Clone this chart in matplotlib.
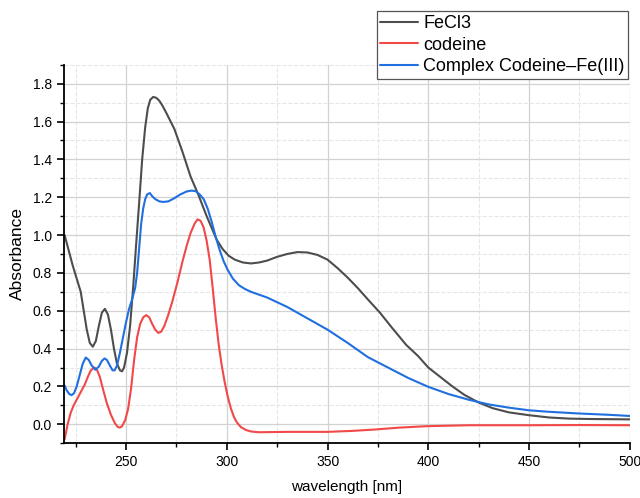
import matplotlib
matplotlib.use("Agg")
from matplotlib import pyplot as plt
from matplotlib.ticker import MultipleLocator

plt.rcParams['font.family'] = ['Liberation Sans', 'DejaVu Sans']

# FeCl3
wl_fe = [219.5, 221.5, 223.5, 225.5, 227.5, 229, 230.5, 232, 233.5, 235, 236.5, 238,
         239.5, 241, 242.5, 244, 245.5, 247, 248, 249, 250.5, 252, 253.5, 255,
         256.5, 258, 259.5, 260.8, 262, 263.5, 265, 266.5, 268, 270, 274, 278,
         282, 286, 290, 295, 298, 301, 304, 308, 312, 316, 320, 325, 330, 335,
         340, 345, 350, 355, 360, 365, 370, 376, 382, 389, 395, 400, 406, 412,
         418, 425, 432, 440, 450, 460, 470, 480, 490, 500]
abs_fe = [1.00, 0.92, 0.84, 0.77, 0.70, 0.60, 0.50, 0.43, 0.41, 0.44, 0.52, 0.59,
          0.61, 0.58, 0.50, 0.40, 0.32, 0.285, 0.28, 0.30, 0.38, 0.52, 0.72, 0.95,
          1.17, 1.40, 1.57, 1.67, 1.715, 1.73, 1.725, 1.71, 1.685, 1.645, 1.56, 1.44,
          1.31, 1.21, 1.10, 0.975, 0.925, 0.89, 0.87, 0.855, 0.85, 0.855, 0.865, 0.885, 0.90, 0.91,
          0.908, 0.895, 0.87, 0.825, 0.775, 0.72, 0.66, 0.59, 0.51, 0.42, 0.36, 0.30, 0.25, 0.20,
          0.155, 0.115, 0.085, 0.063, 0.048, 0.036, 0.030, 0.028, 0.027, 0.026]

# codeine
wl_cod = [219.5, 221, 222.5, 224, 226, 228, 229.5, 231, 232.5, 234.3, 235.5, 237,
          238.7, 240.5, 242.5, 244.5, 246, 247, 248, 249.5, 251, 252.5, 254, 255.5,
          257, 258.5, 260, 261.5, 263, 264.5, 266, 267.5, 269, 271, 273, 275.5,
          278, 280, 282, 284, 285.5, 287, 288.5, 290, 291.5, 293, 294.5, 296,
          297.5, 299, 300.5, 302, 303.5, 305, 307, 309.5, 312, 316, 330, 350,
          362, 373, 385, 399, 420, 450, 475, 500]
abs_cod = [-0.08, 0.0, 0.06, 0.10, 0.14, 0.18, 0.21, 0.25, 0.285, 0.30, 0.29, 0.25,
           0.18, 0.11, 0.05, 0.005, -0.015, -0.017, -0.01, 0.02, 0.08, 0.19, 0.34, 0.46,
           0.53, 0.565, 0.577, 0.565, 0.53, 0.50, 0.483, 0.49, 0.52, 0.58, 0.65, 0.75,
           0.86, 0.94, 1.01, 1.06, 1.083, 1.075, 1.04, 0.97, 0.87, 0.72, 0.56, 0.42,
           0.31, 0.22, 0.145, 0.085, 0.04, 0.01, -0.015, -0.03, -0.038, -0.042, -0.04, -0.04,
           -0.035, -0.028, -0.018, -0.01, -0.005, -0.005, -0.004, -0.005]

# complex codeine-Fe(III)
wl_cx = [219.5, 220.5, 221.8, 223, 224.2, 225.5, 227, 228.5, 230, 231.5, 233, 234.8,
         236.5, 238, 239.3, 240.5, 242, 243.3, 244.3, 245.5, 247, 248.5, 250, 251.5,
         253, 254.5, 255.5, 256.5, 257.5, 258.5, 259.5, 260.5, 261.8, 263, 264.5, 266.5,
         268.5, 271, 274, 277, 280, 282.5, 284.5, 286.5, 288.5, 290.5, 292.5, 294.5,
         296.5, 298.5, 300.5, 303, 306, 309, 312, 316, 320, 330, 340, 350, 360, 370,
         380, 390, 400, 410, 420, 430, 440, 450, 460, 475, 490, 500]
abs_cx = [0.205, 0.18, 0.16, 0.154, 0.165, 0.20, 0.26, 0.32, 0.353, 0.34, 0.31, 0.288,
          0.305, 0.335, 0.348, 0.34, 0.31, 0.285, 0.285, 0.31, 0.38, 0.46, 0.54, 0.61,
          0.66, 0.72, 0.80, 0.93, 1.06, 1.14, 1.19, 1.215, 1.222, 1.205, 1.19, 1.178,
          1.175, 1.178, 1.195, 1.215, 1.23, 1.235, 1.232, 1.215, 1.19, 1.14, 1.07, 0.99,
          0.92, 0.86, 0.815, 0.77, 0.735, 0.715, 0.70, 0.685, 0.67, 0.62, 0.56, 0.50, 0.43, 0.355,
          0.30, 0.245, 0.198, 0.16, 0.13, 0.105, 0.088, 0.074, 0.066, 0.057, 0.05, 0.044]

fig = plt.figure(figsize=(6.4, 4.98), dpi=100)
ax = fig.add_axes([0.1, 0.11, 0.884, 0.76])

style = dict(lw=1.5, solid_joinstyle='round', solid_capstyle='round')
ax.plot(wl_fe, abs_fe, color='#4d4d4d', label='FeCl3', **style)
ax.plot(wl_cod, abs_cod, color='#f24848', label='codeine', **style)
ax.plot(wl_cx, abs_cx, color='#1f6fe0', label='Complex Codeine\u2013Fe(III)', **style)

ax.set_xlim(219.2, 500)
ax.set_ylim(-0.1, 1.9)
ax.xaxis.set_major_locator(MultipleLocator(50))
ax.xaxis.set_minor_locator(MultipleLocator(25))
ax.yaxis.set_major_locator(MultipleLocator(0.2))
ax.yaxis.set_minor_locator(MultipleLocator(0.1))
ax.yaxis.set_major_formatter(plt.FormatStrFormatter('%.1f'))

ax.grid(which='major', color='#d2d2d2', lw=0.9, ls='-')
ax.grid(which='minor', color='#e6e6e6', lw=0.8, ls='--')
ax.set_axisbelow(True)

for s in ['top', 'right']:
    ax.spines[s].set_visible(False)
for s in ['left', 'bottom']:
    ax.spines[s].set_linewidth(1.3)
ax.tick_params(which='major', direction='out', length=5, width=1.2, labelsize=10)
ax.tick_params(which='minor', direction='out', length=3, width=1.0)

ax.set_xlabel('wavelength [nm]', fontsize=11, labelpad=8)
ax.set_ylabel('Absorbance', fontsize=12.5, labelpad=6)

leg = ax.legend(loc='upper right', bbox_to_anchor=(0.982, 0.977),
                bbox_transform=fig.transFigure, fontsize=13, fancybox=False,
                edgecolor='#555555', framealpha=1, borderpad=0.2,
                labelspacing=0.25, handlelength=2.1, handletextpad=0.3,
                borderaxespad=0)
leg.get_frame().set_linewidth(0.9)

plt.savefig("out.png", dpi=100)
